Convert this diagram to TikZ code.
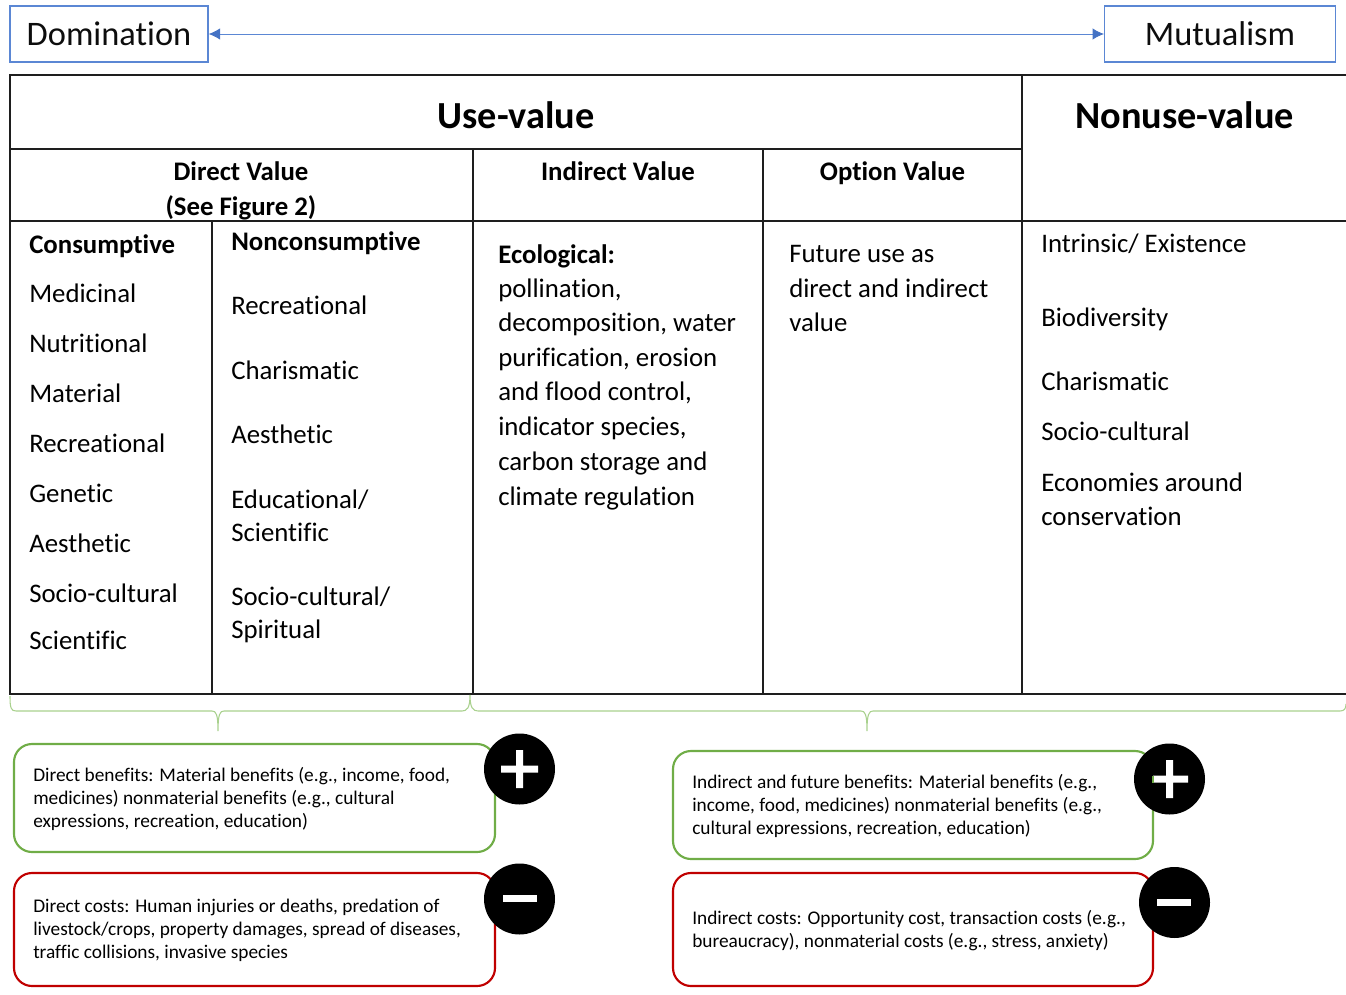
\documentclass[tikz,border=0pt]{standalone}
\usepackage{fontspec}
\setmainfont{Carlito}[Ligatures=NoCommon]
\usetikzlibrary{arrows.meta}
\definecolor{tblue}{RGB}{91,135,212}
\definecolor{thead}{RGB}{68,114,196}
\definecolor{tgreen}{RGB}{112,173,71}
\definecolor{lgreen}{RGB}{169,209,142}
\definecolor{tred}{RGB}{192,0,0}
\definecolor{tline}{RGB}{30,30,30}
\tikzset{
 x=0.75pt,y=-0.75pt,
 big/.style={anchor=base,yshift=-0.75pt,font=\fontsize{25.8pt}{30pt}\selectfont,inner sep=0pt,text=black!95},
 head/.style={anchor=base,yshift=-0.9pt,font=\fontsize{28.7pt}{32pt}\selectfont\bfseries,inner sep=0pt},
 sub/.style={anchor=base,yshift=-0.75pt,font=\fontsize{20.1pt}{24pt}\selectfont\bfseries,inner sep=0pt},
 bodyb/.style={anchor=base west,yshift=-0.75pt,font=\fontsize{20.1pt}{24pt}\selectfont\bfseries,inner sep=0pt},
 body/.style={anchor=base west,yshift=-0.6pt,font=\fontsize{20.1pt}{24pt}\selectfont,inner sep=0pt},
 small/.style={anchor=base west,yshift=-0.6pt,font=\fontsize{14.5pt}{17pt}\selectfont,inner sep=0pt},
 scalebox/.style={draw=tblue,line width=1pt,inner sep=0pt},
 grid/.style={draw=tline,line width=1.5pt},
 brace/.style={draw=lgreen,line width=0.8pt},
 gbox/.style={draw=tgreen,line width=1.6pt,rounded corners=13.5pt},
 rbox/.style={draw=tred,line width=1.6pt,rounded corners=13.5pt},
 disc/.style={circle,fill=black,minimum size=53.25pt,inner sep=0pt},
}
\begin{document}
\begin{tikzpicture}
\useasboundingbox (0,0) rectangle (1346,995);
% top scale
\node[scalebox,minimum width=148.5pt,minimum height=42pt] (dom) at (109,34) {};
\node[scalebox,minimum width=173pt,minimum height=42pt] (mut) at (1220,34) {};
\node[big] (domt) at (109,45) {Domination};
\node[big] (mutt) at (1220,45) {Mutualism};
\draw[tblue,line width=0.7pt,{Latex[length=8.5pt,width=8.5pt,color=thead]}-{Latex[length=8.5pt,width=8.5pt,color=thead]}] (dom) -- (mut);
% table
\draw[grid] (1346,75) -- (10,75) -- (10,693.5) -- (1346,693.5);
\draw[grid] (10,149.5) -- (1022,149.5);
\draw[grid] (10,221.5) -- (1346,221.5);
\draw[grid] (1022,75) -- (1022,693.5);
\draw[grid] (473,149.5) -- (473,693.5);
\draw[grid] (763,149.5) -- (763,693.5);
\draw[grid] (212,221.5) -- (212,693.5);
\node[head] (useval) at (516,127) {Use-value};
\node[head] (nonuse) at (1184.5,127) {Nonuse-value};
\node[sub] (dv1) at (241,180) {Direct Value};
\node[sub] (dv2) at (241,215) {(See Figure 2)};
\node[sub] (iv) at (618,180) {Indirect Value};
\node[sub] (ov) at (892.5,180) {Option Value};
% consumptive
\node[bodyb] (c0) at (29,252) {Consumptive};
\node[body] (c1) at (29,302) {Medicinal};
\node[body] (c2) at (29,352) {Nutritional};
\node[body] (c3) at (29,402) {Material};
\node[body] (c4) at (29,452) {Recreational};
\node[body] (c5) at (29,502) {Genetic};
\node[body] (c6) at (29,552) {Aesthetic};
\node[body] (c7) at (29,602) {Socio-cultural};
\node[body] (c8) at (29,649) {Scientific};
% nonconsumptive
\node[bodyb] (n0) at (231,249.5) {Nonconsumptive};
\node[body] (n1) at (231,314) {Recreational};
\node[body] (n2) at (231,379) {Charismatic};
\node[body] (n3) at (231,443) {Aesthetic};
\node[body] (n4) at (231,508) {Educational/};
\node[body] (n5) at (231,541) {Scientific};
\node[body] (n6) at (231,605) {Socio-cultural/};
\node[body] (n7) at (231,638) {Spiritual};
% indirect
\node[bodyb] (e0) at (498,262) {Ecological:};
\node[body] (e1) at (498,297) {pollination,};
\node[body] (e2) at (498,331) {decomposition, water};
\node[body] (e3) at (498,366) {purification, erosion};
\node[body] (e4) at (498,400) {and flood control,};
\node[body] (e5) at (498,435) {indicator species,};
\node[body] (e6) at (498,470) {carbon storage and};
\node[body] (e7) at (498,505) {climate regulation};
% option
\node[body] (o1) at (789,262) {Future use as};
\node[body] (o2) at (789,297) {direct and indirect};
\node[body] (o3) at (789,331) {value};
% nonuse
\node[body] (u1) at (1041,252) {Intrinsic/ Existence};
\node[body] (u2) at (1041,326) {Biodiversity};
\node[body] (u3) at (1041,390) {Charismatic};
\node[body] (u4) at (1041,440) {Socio-cultural};
\node[body] (u5) at (1041,491) {Economies around};
\node[body] (u6) at (1041,525) {conservation};
% braces
\draw[brace] (10,696) .. controls (10,708) and (11,711) .. (16,711) -- (212,711) .. controls (216,711) and (218,714) .. (218,731) .. controls (218,714) and (220,711) .. (224,711) -- (462,711) .. controls (467,711) and (470,708) .. (470,695) .. controls (470,708) and (473,711) .. (478,711) -- (861,711) .. controls (865,711) and (867,714) .. (867,731) .. controls (867,714) and (869,711) .. (873,711) -- (1340,711) .. controls (1344,711) and (1346,709) .. (1346,704);
% boxes
\draw[gbox] (14,744) rectangle (495,852);
\draw[rbox] (14,873) rectangle (495,986);
\draw[gbox] (673,751) rectangle (1153,859);
\draw[rbox] (673,873) rectangle (1153,986);
\node[small] (b1) at (33,781) {Direct benefits: Material benefits (e.g., income, food,};
\node[small] (b2) at (33,804) {medicines) nonmaterial benefits (e.g., cultural};
\node[small] (b3) at (33,827) {expressions, recreation, education)};
\node[small] (d1) at (33,912) {Direct costs: Human injuries or deaths, predation of};
\node[small] (d2) at (33,935) {livestock/crops, property damages, spread of diseases,};
\node[small] (d3) at (33,958) {traffic collisions, invasive species};
\node[small] (i1) at (692,788) {Indirect and future benefits: Material benefits (e.g.,};
\node[small] (i2) at (692,811) {income, food, medicines) nonmaterial benefits (e.g.,};
\node[small] (i3) at (692,834) {cultural expressions, recreation, education)};
\node[small] (k1) at (692,924) {Indirect costs: Opportunity cost, transaction costs (e.g.,};
\node[small] (k2) at (692,947) {bureaucracy), nonmaterial costs (e.g., stress, anxiety)};
% signs
\node[disc] (p1) at (519.5,769) {};
\node[disc] (m1) at (519.5,899) {};
\node[disc] (p2) at (1169.5,779) {};
\node[disc] (m2) at (1174.5,902.5) {};
\fill[white] (501,765.5) rectangle (538,772.5) (516,750) rectangle (523,788);
\fill[white] (503,895) rectangle (537,902);
\fill[white] (1153,775.5) rectangle (1188,782.5) (1166,760) rectangle (1173,798);
\fill[tgreen] (1151.5,775.5) rectangle (1153.5,782.5);
\fill[white] (1157,898.5) rectangle (1191,905.5);
\end{tikzpicture}
\end{document}
